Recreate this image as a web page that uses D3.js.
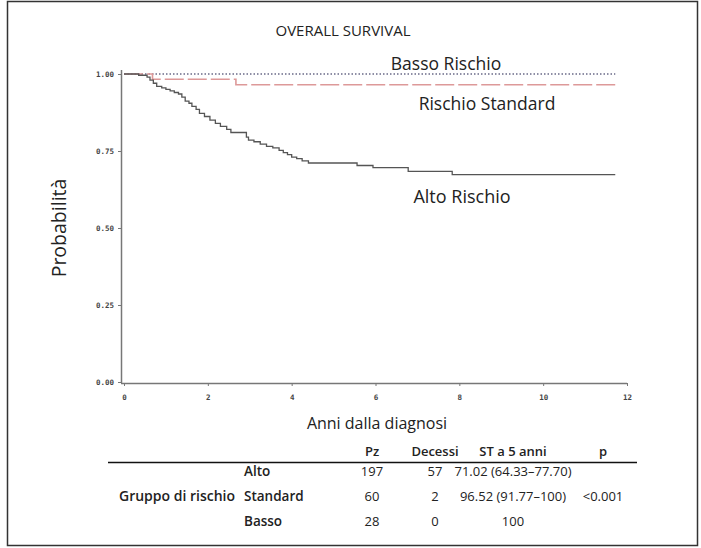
<!DOCTYPE html>
<html>
<head>
<meta charset="utf-8">
<script src="https://cdn.jsdelivr.net/npm/d3@7"></script>
<style>
  html, body { margin: 0; padding: 0; background: #fff; }
  svg { display: block; }
  .lbl { font-family: "Open Sans", "DejaVu Sans", sans-serif; fill: #222; }
  .tick text { font-family: "DejaVu Sans Mono", monospace; font-weight: bold; font-size: 7.5px; fill: #444; }
</style>
</head>
<body>
<svg id="chart" width="701" height="548"></svg>
<script>
// ── Data ──────────────────────────────────────────────────────────────────────
// Kaplan–Meier steps: [anni, sopravvivenza]
const altoSteps = [
  [0, 1.0], [0.35, 0.996], [0.55, 0.990], [0.62, 0.980], [0.70, 0.970],
  [0.78, 0.960], [0.90, 0.955], [1.00, 0.950], [1.10, 0.945], [1.20, 0.940],
  [1.30, 0.935], [1.38, 0.925], [1.46, 0.912], [1.55, 0.905], [1.62, 0.895],
  [1.72, 0.885], [1.80, 0.872], [1.92, 0.862], [2.05, 0.850], [2.18, 0.840],
  [2.30, 0.830], [2.45, 0.820], [2.55, 0.810], [2.92, 0.795], [2.97, 0.785],
  [3.10, 0.780], [3.25, 0.772], [3.40, 0.765], [3.55, 0.760], [3.70, 0.752],
  [3.80, 0.745], [3.90, 0.738], [4.00, 0.730], [4.12, 0.725], [4.25, 0.718],
  [4.40, 0.711], [5.56, 0.703], [5.94, 0.696], [6.78, 0.684], [7.83, 0.673],
  [11.72, 0.673]
];
const standardSteps = [[0, 1.0], [0.68, 0.983], [2.67, 0.965], [11.72, 0.965]];
const bassoSteps    = [[0, 1.0], [11.72, 1.0]];

const xTicks = [0, 2, 4, 6, 8, 10, 12];
const yTicks = [0, 0.25, 0.5, 0.75, 1.0];

const tableHeader = ["Pz", "Decessi", "ST a  5 anni", "p"];
const tableGroups = ["Alto", "Standard", "Basso"];
const tablePz     = ["197", "60", "28"];
const tableDeaths = ["57", "2", "0"];
const tableST     = ["71.02 (64.33\u201377.70)", "96.52 (91.77\u2013100)", "100"];
const tableP      = "<0.001";

// ── Chart ─────────────────────────────────────────────────────────────────────
const svg = d3.select("#chart");

svg.append("rect")
  .attr("x", 7.5).attr("y", 1.5).attr("width", 690).attr("height", 544)
  .attr("fill", "#fff").attr("stroke", "#333").attr("stroke-width", 1.5);

const x = d3.scaleLinear().domain([0, 12]).range([124, 627]);
const y = d3.scaleLinear().domain([0, 1]).range([382, 74]);

// axes
const xAxis = svg.append("g").attr("transform", "translate(0,383)")
  .call(d3.axisBottom(x).tickValues(xTicks).tickFormat(d3.format("d")).tickSize(3).tickSizeOuter(0).tickPadding(9));
const yAxis = svg.append("g").attr("transform", "translate(121,0)")
  .call(d3.axisLeft(y).tickValues(yTicks).tickFormat(d3.format(".2f")).tickSize(3).tickSizeOuter(0).tickPadding(4));
[xAxis, yAxis].forEach(a => {
  a.select(".domain").attr("stroke", "#777").attr("stroke-width", 1.5);
  a.selectAll(".tick line").attr("stroke", "#777");
});
xAxis.select(".domain").attr("d", "M121,0.5H627");
yAxis.select(".domain").attr("d", "M0.5,70V383");

const step = d3.line().x(d => x(d[0])).y(d => y(d[1])).curve(d3.curveStepAfter);

svg.append("path").datum(bassoSteps).attr("d", step)
  .attr("fill", "none").attr("stroke", "#6a6a88").attr("stroke-width", 1.3)
  .attr("stroke-dasharray", "1.5,2");
svg.append("path").datum(standardSteps).attr("d", step)
  .attr("fill", "none").attr("stroke", "#dd9999").attr("stroke-width", 1.6)
  .attr("stroke-dasharray", "19,4");
svg.append("path").datum(altoSteps).attr("d", step)
  .attr("fill", "none").attr("stroke", "#555").attr("stroke-width", 1.3);

// texts
svg.append("text").attr("class", "lbl").attr("x", 343).attr("y", 36)
  .attr("text-anchor", "middle").style("font-size", "15px").text("OVERALL SURVIVAL");
svg.append("text").attr("class", "lbl").attr("x", 446).attr("y", 70)
  .attr("text-anchor", "middle").style("font-size", "17.5px").text("Basso Rischio");
svg.append("text").attr("class", "lbl").attr("x", 487).attr("y", 110)
  .attr("text-anchor", "middle").style("font-size", "17.5px").text("Rischio Standard");
svg.append("text").attr("class", "lbl").attr("x", 462).attr("y", 203)
  .attr("text-anchor", "middle").style("font-size", "18px").text("Alto Rischio");
svg.append("text").attr("class", "lbl").attr("transform", "translate(66,228) rotate(-90)")
  .attr("text-anchor", "middle").style("font-size", "19.5px").text("Probabilità");
svg.append("text").attr("class", "lbl").attr("x", 377).attr("y", 429)
  .attr("text-anchor", "middle").style("font-size", "16px").text("Anni dalla diagnosi");

// table
const colX = [372, 435, 513, 603];
const rowY = [476, 501, 526];
const tbl = svg.append("g").attr("class", "lbl").style("font-size", "13px");

tbl.selectAll("text.hd").data(tableHeader).join("text").attr("class", "hd")
  .attr("x", (d, i) => colX[i]).attr("y", 456).attr("text-anchor", "middle")
  .style("font-weight", 600).text(d => d);
tbl.append("line").attr("x1", 108).attr("x2", 637).attr("y1", 462.5).attr("y2", 462.5)
  .attr("stroke", "#111").attr("stroke-width", 1.5);

tbl.selectAll("text.grp").data(tableGroups).join("text").attr("class", "grp")
  .attr("x", 244).attr("y", (d, i) => rowY[i]).style("font-size", "13.5px")
  .style("font-weight", 600).text(d => d);
tbl.selectAll("text.pz").data(tablePz).join("text").attr("class", "pz")
  .attr("x", colX[0]).attr("y", (d, i) => rowY[i]).attr("text-anchor", "middle").text(d => d);
tbl.selectAll("text.dc").data(tableDeaths).join("text").attr("class", "dc")
  .attr("x", colX[1]).attr("y", (d, i) => rowY[i]).attr("text-anchor", "middle").text(d => d);
tbl.selectAll("text.st").data(tableST).join("text").attr("class", "st")
  .attr("x", colX[2]).attr("y", (d, i) => rowY[i]).attr("text-anchor", "middle").text(d => d);
tbl.append("text").attr("x", colX[3]).attr("y", rowY[1]).attr("text-anchor", "middle").text(tableP);
tbl.append("text").attr("x", 235).attr("y", rowY[1]).attr("text-anchor", "end")
  .style("font-size", "14px").style("font-weight", 600).text("Gruppo di rischio");
</script>
</body>
</html>
